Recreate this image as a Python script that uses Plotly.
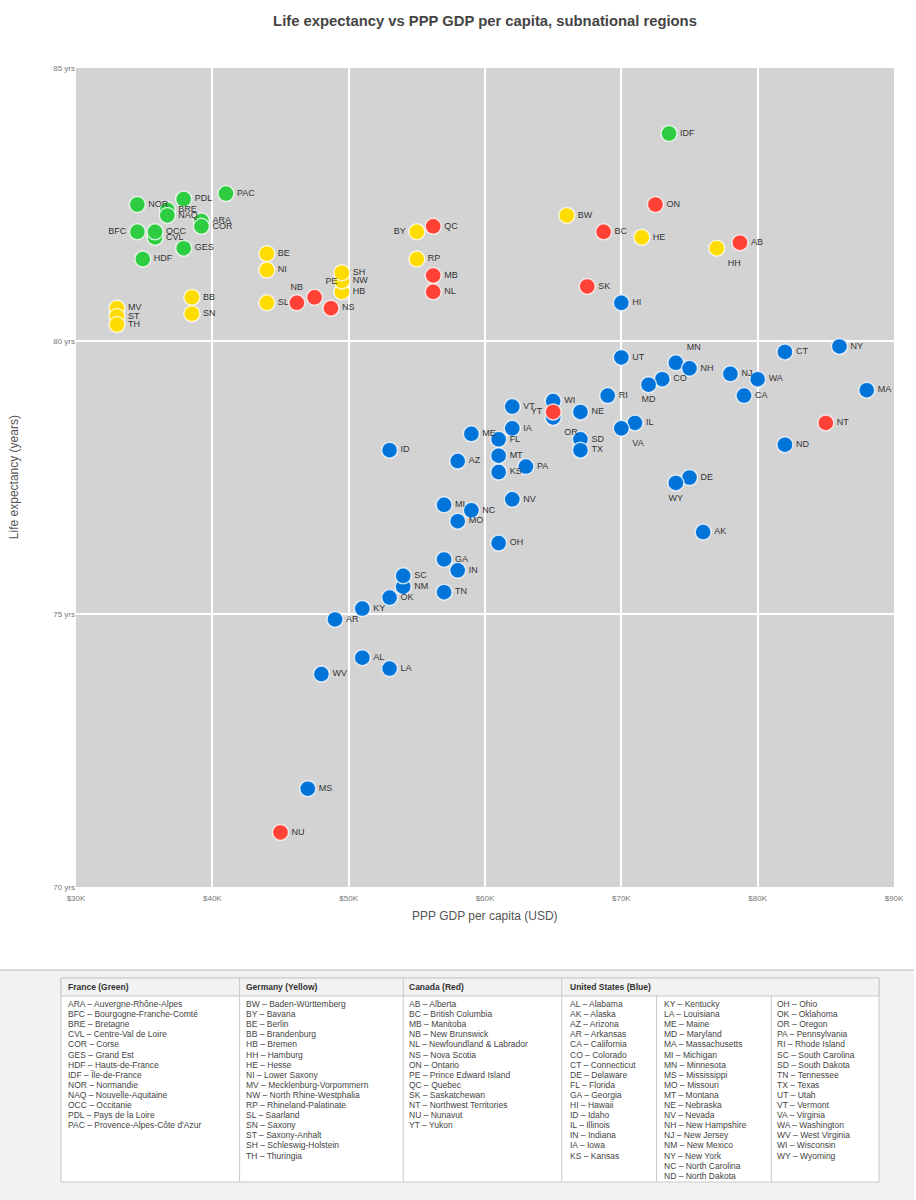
import plotly.graph_objects as go

# ---- data (GDP in USD, life expectancy in years) ----
fr_codes = ["ARA", "BFC", "BRE", "CVL", "COR", "GES", "HDF", "IDF", "NOR", "NAQ", "OCC", "PDL", "PAC"]
fr_gdp = [39200, 34500, 36700, 35800, 39200, 37900, 34900, 73500, 34500, 36700, 35800, 37900, 41000]
fr_life = [82.2, 82.0, 82.4, 81.9, 82.1, 81.7, 81.5, 83.8, 82.5, 82.3, 82.0, 82.6, 82.7]
fr_names = ["ARA – Auvergne-Rhône-Alpes", "BFC – Bourgogne-Franche-Comté", "BRE – Bretagne",
            "CVL – Centre-Val de Loire", "COR – Corse", "GES – Grand Est", "HDF – Hauts-de-France",
            "IDF – Île-de-France", "NOR – Normandie", "NAQ – Nouvelle-Aquitaine", "OCC – Occitanie",
            "PDL – Pays de la Loire", "PAC – Provence-Alpes-Côte d'Azur"]

de_codes = ["BW", "BY", "BE", "BB", "HB", "HH", "HE", "NI", "MV", "NW", "RP", "SL", "SN", "ST", "SH", "TH"]
de_gdp = [66000, 55000, 44000, 38500, 49500, 77000, 71500, 44000, 33000, 49500, 55000, 44000, 38500, 33000, 49500, 33000]
de_life = [82.3, 82.0, 81.6, 80.8, 80.9, 81.7, 81.9, 81.3, 80.6, 81.1, 81.5, 80.7, 80.5, 80.45, 81.25, 80.3]
de_names = ["BW – Baden-Württemberg", "BY – Bavaria", "BE – Berlin", "BB – Brandenburg", "HB – Bremen",
            "HH – Hamburg", "HE – Hesse", "NI – Lower Saxony", "MV – Mecklenburg-Vorpommern",
            "NW – North Rhine-Westphalia", "RP – Rhineland-Palatinate", "SL – Saarland", "SN – Saxony",
            "ST – Saxony-Anhalt", "SH – Schleswig-Holstein", "TH – Thuringia"]

ca_codes = ["AB", "BC", "MB", "NB", "NL", "NS", "ON", "PE", "QC", "SK", "NT", "NU", "YT"]
ca_gdp = [78700, 68700, 56200, 46200, 56200, 48700, 72500, 47500, 56200, 67500, 85000, 45000, 65000]
ca_life = [81.8, 82.0, 81.2, 80.7, 80.9, 80.6, 82.5, 80.8, 82.1, 81.0, 78.5, 71.0, 78.7]
ca_names = ["AB – Alberta", "BC – British Columbia", "MB – Manitoba", "NB – New Brunswick",
            "NL – Newfoundland & Labrador", "NS – Nova Scotia", "ON – Ontario", "PE – Prince Edward Island",
            "QC – Quebec", "SK – Saskatchewan", "NT – Northwest Territories", "NU – Nunavut", "YT – Yukon"]

us_codes = ["AL", "AK", "AZ", "AR", "CA", "CO", "CT", "DE", "FL", "GA", "HI", "ID", "IL", "IN", "IA", "KS",
            "KY", "LA", "ME", "MD", "MA", "MI", "MN", "MS", "MO", "MT", "NE", "NV", "NH", "NJ", "NM", "NY",
            "NC", "ND", "OH", "OK", "OR", "PA", "RI", "SC", "SD", "TN", "TX", "UT", "VT", "VA", "WA", "WV",
            "WI", "WY"]
us_gdp = [51000, 76000, 58000, 49000, 79000, 73000, 82000, 75000, 61000, 57000, 70000, 53000, 71000, 58000,
          62000, 61000, 51000, 53000, 59000, 72000, 88000, 57000, 74000, 47000, 58000, 61000, 67000, 62000,
          75000, 78000, 54000, 86000, 59000, 82000, 61000, 53000, 65000, 63000, 69000, 54000, 67000, 57000,
          67000, 70000, 62000, 70000, 80000, 48000, 65000, 74000]
us_life = [74.2, 76.5, 77.8, 74.9, 79.0, 79.3, 79.8, 77.5, 78.2, 76.0, 80.7, 78.0, 78.5, 75.8, 78.4, 77.6,
           75.1, 74.0, 78.3, 79.2, 79.1, 77.0, 79.6, 71.8, 76.7, 77.9, 78.7, 77.1, 79.5, 79.4, 75.5, 79.9,
           76.9, 78.1, 76.3, 75.3, 78.6, 77.7, 79.0, 75.7, 78.2, 75.4, 78.0, 79.7, 78.8, 78.4, 79.3, 73.9,
           78.9, 77.4]
us_names = ["AL – Alabama", "AK – Alaska", "AZ – Arizona", "AR – Arkansas", "CA – California", "CO – Colorado",
            "CT – Connecticut", "DE – Delaware", "FL – Florida", "GA – Georgia", "HI – Hawaii", "ID – Idaho",
            "IL – Illinois", "IN – Indiana", "IA – Iowa", "KS – Kansas",
            "KY – Kentucky", "LA – Louisiana", "ME – Maine", "MD – Maryland", "MA – Massachusetts",
            "MI – Michigan", "MN – Minnesota", "MS – Mississippi", "MO – Missouri", "MT – Montana",
            "NE – Nebraska", "NV – Nevada", "NH – New Hampshire", "NJ – New Jersey", "NM – New Mexico",
            "NY – New York", "NC – North Carolina", "ND – North Dakota",
            "OH – Ohio", "OK – Oklahoma", "OR – Oregon", "PA – Pennsylvania", "RI – Rhode Island",
            "SC – South Carolina", "SD – South Dakota", "TN – Tennessee", "TX – Texas", "UT – Utah",
            "VT – Vermont", "VA – Virginia", "WA – Washington", "WV – West Virginia", "WI – Wisconsin",
            "WY – Wyoming"]

gdp_ticks = [30000, 40000, 50000, 60000, 70000, 80000, 90000]
gdp_tick_labels = ["$30K", "$40K", "$50K", "$60K", "$70K", "$80K", "$90K"]
life_ticks = [70, 75, 80, 85]
life_tick_labels = ["70 yrs", "75 yrs", "80 yrs", "85 yrs"]

# ---- styling ----
FONT = "Liberation Sans, Arial, sans-serif"
GREEN, YELLOW, RED, BLUE = "#2ECC40", "#FFDC00", "#FF4136", "#0074D9"

label_pos = {"BFC": "middle left", "BY": "middle left", "YT": "middle left",
             "NB": "top center", "PE": "top right", "MN": "top right",
             "HH": "bottom right", "VA": "bottom right", "OR": "bottom right",
             "MD": "bottom center", "WY": "bottom center"}

W, H = 916, 1200
ML, MR, MT, MB = 76, 20, 68, 313
PW, PH = W - ML - MR, H - MT - MB


def px(x):
    return (x - ML) / PW


def py(y):
    return (H - MB - y) / PH


def add_group(fig, codes, gdp, life, color):
    fig.add_trace(go.Scatter(
        x=gdp, y=life, text=codes, mode="markers+text",
        textposition=[label_pos.get(c, "middle right") for c in codes],
        textfont=dict(family=FONT, size=9, color="#333"),
        marker=dict(size=16, color=color, line=dict(width=1.5, color="rgba(255,255,255,0.75)")),
        hovertemplate="%{text}: $%{x:,.0f}, %{y} yrs<extra></extra>",
    ))


fig = go.Figure()
add_group(fig, fr_codes, fr_gdp, fr_life, GREEN)
add_group(fig, de_codes, de_gdp, de_life, YELLOW)
add_group(fig, us_codes, us_gdp, us_life, BLUE)
add_group(fig, ca_codes, ca_gdp, ca_life, RED)

fig.update_xaxes(range=[30000, 90000], tickvals=gdp_ticks, ticktext=gdp_tick_labels,
                 showgrid=True, gridcolor="white", gridwidth=1.5, zeroline=False,
                 tickfont=dict(family=FONT, size=8, color="#777"), ticks="outside",
                 ticklen=3, tickcolor="rgba(0,0,0,0)")
fig.update_yaxes(range=[70, 85], tickvals=life_ticks, ticktext=life_tick_labels,
                 showgrid=True, gridcolor="white", gridwidth=1.5, zeroline=False,
                 tickfont=dict(family=FONT, size=8, color="#777"), ticks="")

shapes = []
annotations = []

# bottom panel with the code key
shapes.append(dict(type="rect", xref="paper", yref="paper", x0=px(0), x1=px(W), y0=py(H), y1=py(970),
                   fillcolor="#f2f2f2", line=dict(width=0), layer="below"))
shapes.append(dict(type="line", xref="paper", yref="paper", x0=px(0), x1=px(W), y0=py(970), y1=py(970),
                   line=dict(color="#cfcfcf", width=1.5)))
shapes.append(dict(type="rect", xref="paper", yref="paper", x0=px(61), x1=px(881), y0=py(1182), y1=py(978),
                   fillcolor="white", line=dict(color="#c8c8c8", width=1)))
shapes.append(dict(type="rect", xref="paper", yref="paper", x0=px(61), x1=px(881), y0=py(996), y1=py(978),
                   fillcolor="#f2f2f2", line=dict(color="#c8c8c8", width=1)))
for xv in [240, 404, 563]:
    shapes.append(dict(type="line", xref="paper", yref="paper", x0=px(xv), x1=px(xv), y0=py(1182), y1=py(978),
                       line=dict(color="#c8c8c8", width=1)))
for xv in [658, 773]:
    shapes.append(dict(type="line", xref="paper", yref="paper", x0=px(xv), x1=px(xv), y0=py(1182), y1=py(996),
                       line=dict(color="#c8c8c8", width=1)))

headers = [("France (Green)", 66), ("Germany (Yellow)", 244), ("Canada (Red)", 408), ("United States (Blue)", 569)]
for text, xv in headers:
    annotations.append(dict(text="<b>" + text + "</b>", xref="paper", yref="paper", x=px(xv), y=py(987),
                            xanchor="left", yanchor="middle", showarrow=False,
                            font=dict(family=FONT, size=8.5, color="#333")))

columns = [(fr_names, 66), (de_names, 244), (ca_names, 408),
           (us_names[:16], 569), (us_names[16:34], 663), (us_names[34:], 777)]
for names, xv in columns:
    for i, name in enumerate(names):
        annotations.append(dict(text=name.replace("&", "&amp;"), xref="paper", yref="paper",
                                x=px(xv), y=py(1004 + i * 10.1),
                                xanchor="left", yanchor="middle", showarrow=False,
                                font=dict(family=FONT, size=8.5, color="#444")))

# axis titles
annotations.append(dict(text="PPP GDP per capita (USD)", xref="paper", yref="paper", x=0.5, y=py(916),
                        xanchor="center", yanchor="middle", showarrow=False,
                        font=dict(family=FONT, size=12, color="#555")))
annotations.append(dict(text="Life expectancy (years)", xref="paper", yref="paper", x=px(14), y=py(477),
                        xanchor="center", yanchor="middle", showarrow=False, textangle=-90,
                        font=dict(family=FONT, size=12, color="#555")))

fig.update_layout(
    width=W, height=H,
    margin=dict(l=ML, r=MR, t=MT, b=MB),
    paper_bgcolor="white", plot_bgcolor="#d3d3d3",
    showlegend=False,
    title=dict(text="<b>Life expectancy vs PPP GDP per capita, subnational regions</b>",
               xref="paper", x=0.5, xanchor="center", y=1 - 21 / H, yanchor="middle",
               font=dict(family=FONT, size=14.8, color="#444")),
    shapes=shapes, annotations=annotations,
    font=dict(family=FONT),
)

# page body margin would shift the figure by 8px
fig.write_html("out.html", config={"displayModeBar": False},
               post_script="document.body.style.margin='0';")
